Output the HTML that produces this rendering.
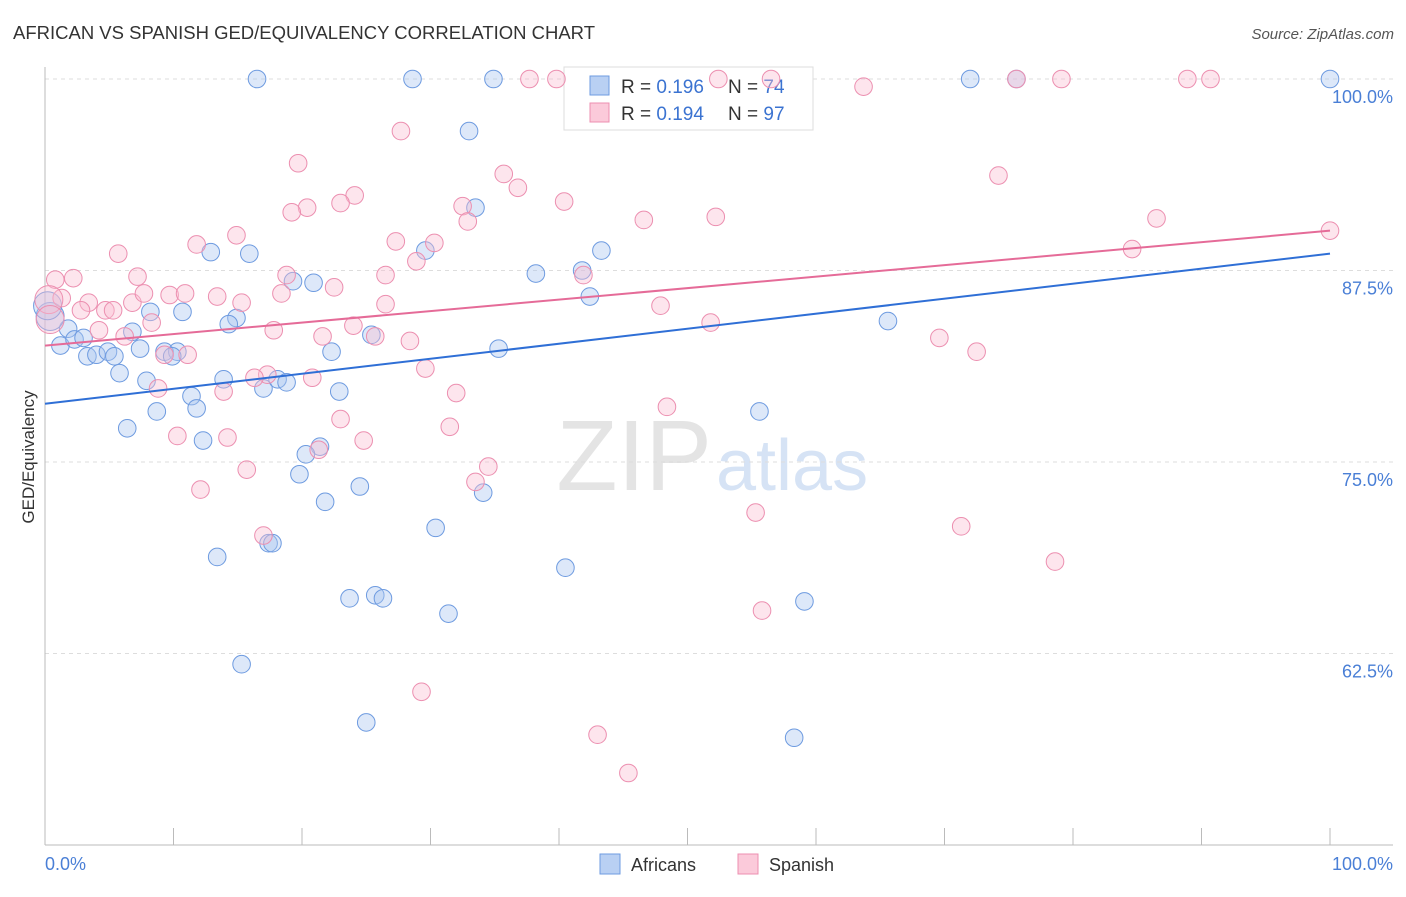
<!DOCTYPE html>
<html><head><meta charset="utf-8"><style>
body{margin:0;background:#fff;font-family:"Liberation Sans",sans-serif;}
svg text{font-family:"Liberation Sans",sans-serif;}
</style></head><body>
<svg id="chart" width="1406" height="892" xmlns="http://www.w3.org/2000/svg">
<text x="13" y="39" font-size="18" fill="#333" textLength="582" lengthAdjust="spacingAndGlyphs">AFRICAN VS SPANISH GED/EQUIVALENCY CORRELATION CHART</text>
<text x="1394" y="39" font-size="15" fill="#555" text-anchor="end" font-style="italic">Source: ZipAtlas.com</text>
<text x="712" y="490" font-size="100" fill="#e4e4e4" text-anchor="end" font-family="Liberation Serif">ZIP</text>
<text x="716" y="490" font-size="72" fill="#d6e3f5">atlas</text>
<g id="grid"></g>
<g id="axes"></g>
<g>
<rect x="564" y="67" width="249" height="63" fill="#fff" stroke="#ddd"/>
<rect x="590" y="76" width="19" height="19" fill="#b9d0f3" stroke="#6e9be0"/>
<rect x="590" y="103" width="19" height="19" fill="#fbcada" stroke="#ec8fb0"/>
<text x="621" y="93" font-size="19" fill="#333">R = <tspan fill="#3b73d1">0.196</tspan></text>
<text x="728" y="93" font-size="19" fill="#333">N = <tspan fill="#3b73d1">74</tspan></text>
<text x="621" y="120" font-size="19" fill="#333">R = <tspan fill="#3b73d1">0.194</tspan></text>
<text x="728" y="120" font-size="19" fill="#333">N = <tspan fill="#3b73d1">97</tspan></text>
</g>
<g id="points"></g>
<g id="trends"></g>
<text transform="translate(34,457) rotate(-90)" font-size="17" fill="#333" text-anchor="middle">GED/Equivalency</text>
<text x="45" y="870" font-size="18" fill="#4a7fd6">0.0%</text>
<text x="1393" y="870" font-size="18" fill="#4a7fd6" text-anchor="end">100.0%</text>
<g>
<rect x="600" y="854" width="20" height="20" fill="#b9d0f3" stroke="#6e9be0"/>
<text x="631" y="871" font-size="18" fill="#333">Africans</text>
<rect x="738" y="854" width="20" height="20" fill="#fbcada" stroke="#ec8fb0"/>
<text x="769" y="871" font-size="18" fill="#333">Spanish</text>
</g>
</svg>
<script>
const yTicks=[100,87.5,75,62.5];
const xTicks=[0,10,20,30,40,50,60,70,80,90,100];
const afX=[16.5,28.6,34.9,72.0,75.6,100,33.0,33.5,12.9,15.9,43.3,29.6,38.2,41.8,20.9,19.3,42.4,10.7,8.2,14.9,14.3,1.8,6.8,0.4,1.2,2.3,3.0,3.3,4.0,4.9,5.4,7.4,9.3,10.3,9.9,22.3,25.4,35.3,65.6,5.8,7.9,13.9,17.0,18.1,18.8,11.4,11.8,8.7,22.9,6.4,12.3,21.4,20.3,19.8,24.5,34.1,21.8,30.4,13.4,17.4,17.7,40.5,23.7,25.7,26.3,31.4,59.1,15.3,25.0,58.3,55.6,0.2];
const afY=[100,100,100,100,100,100,96.6,91.6,88.7,88.6,88.8,88.8,87.3,87.5,86.7,86.8,85.8,84.8,84.8,84.4,84.0,83.7,83.5,84.5,82.6,83.0,83.1,81.9,82.0,82.2,81.9,82.4,82.2,82.2,81.9,82.2,83.3,82.4,84.2,80.8,80.3,80.4,79.8,80.4,80.2,79.3,78.5,78.3,79.6,77.2,76.4,76.0,75.5,74.2,73.4,73.0,72.4,70.7,68.8,69.7,69.7,68.1,66.1,66.3,66.1,65.1,65.9,61.8,58.0,57.0,78.3,85.2];
const spX=[37.7,39.8,52.4,56.5,63.7,75.6,79.1,88.9,90.7,27.7,19.7,35.7,36.8,24.1,23.0,20.4,19.2,32.5,40.4,32.9,46.6,52.2,74.2,86.5,14.9,11.8,27.3,30.3,5.7,28.9,84.6,100,0.8,2.2,7.2,18.8,26.5,41.9,1.3,3.4,2.8,4.7,5.3,6.8,7.7,9.7,10.9,13.4,15.3,18.4,22.5,26.5,8.3,4.2,6.2,17.8,21.6,24.0,25.7,28.4,47.9,51.8,69.6,72.5,9.3,11.1,17.3,16.3,20.8,13.9,8.8,29.6,32.0,48.4,23.0,31.5,10.3,14.2,21.3,24.8,34.5,33.5,15.7,12.1,17.0,55.3,71.3,78.6,55.8,29.3,43.0,45.4,0.3,0.4];
const spY=[100,100,100,100,99.5,100,100,100,100,96.6,94.5,93.8,92.9,92.4,91.9,91.6,91.3,91.7,92.0,90.7,90.8,91.0,93.7,90.9,89.8,89.2,89.4,89.3,88.6,88.1,88.9,90.1,86.9,87.0,87.1,87.2,87.2,87.2,85.7,85.4,84.9,84.9,84.9,85.4,86.0,85.9,86.0,85.8,85.4,86.0,86.4,85.3,84.1,83.6,83.2,83.6,83.2,83.9,83.2,82.9,85.2,84.1,83.1,82.2,82.0,82.0,80.7,80.5,80.5,79.6,79.8,81.1,79.5,78.6,77.8,77.3,76.7,76.6,75.8,76.4,74.7,73.7,74.5,73.2,70.2,71.7,70.8,68.5,65.3,60.0,57.2,54.7,85.6,84.3];
const afTrend=[78.8,88.6];
const spTrend=[82.6,90.1];
const NS="http://www.w3.org/2000/svg";
const X=v=>45+v*12.85;
const Y=v=>79+(100-v)*15.32;
function mk(t,a,p){const e=document.createElementNS(NS,t);for(const k in a)e.setAttribute(k,a[k]);document.getElementById(p).appendChild(e);return e;}
yTicks.forEach(t=>{
 const l=mk('line',{x1:45,x2:1393,y1:Y(t),y2:Y(t),stroke:'#ddd','stroke-dasharray':'4,4'},'grid');
 
 
 const tx=mk('text',{x:1393,y:Y(t)+24,'font-size':18,fill:'#4a7fd6','text-anchor':'end'},'grid');
 tx.textContent=t.toFixed(1)+'%';
 
 
});
const ya=mk('line',{x1:45,x2:45,y1:67,y2:845,stroke:'#bbb'},'axes');


const xa=mk('line',{x1:45,x2:1393,y1:845,y2:845,stroke:'#bbb'},'axes');


xTicks.forEach(t=>{
 const l=mk('line',{x1:X(t),x2:X(t),y1:828,y2:845,stroke:'#bbb'},'axes');
 
 
});
function pts(xs,ys,fill,stroke,name){
 xs.forEach((x,i)=>{
  const big=(x<0.5&&ys[i]>84&&ys[i]<86);
  const c=mk('circle',{cx:X(x),cy:Y(ys[i]),r:big?14:8.8,fill:fill,stroke:stroke,'stroke-width':1,'fill-opacity':0.4},'points');
  
  
 });
}
pts(afX,afY,'#aac6f0','#6e9be0','african-point');
pts(spX,spY,'#f9bfd2','#ec8fb0','spanish-point');
const t1=mk('line',{x1:X(0),y1:Y(afTrend[0]),x2:X(100),y2:Y(afTrend[1]),stroke:'#2f6fd6','stroke-width':2},'trends');


const t2=mk('line',{x1:X(0),y1:Y(spTrend[0]),x2:X(100),y2:Y(spTrend[1]),stroke:'#e56b98','stroke-width':2},'trends');


</script>
</body></html>
